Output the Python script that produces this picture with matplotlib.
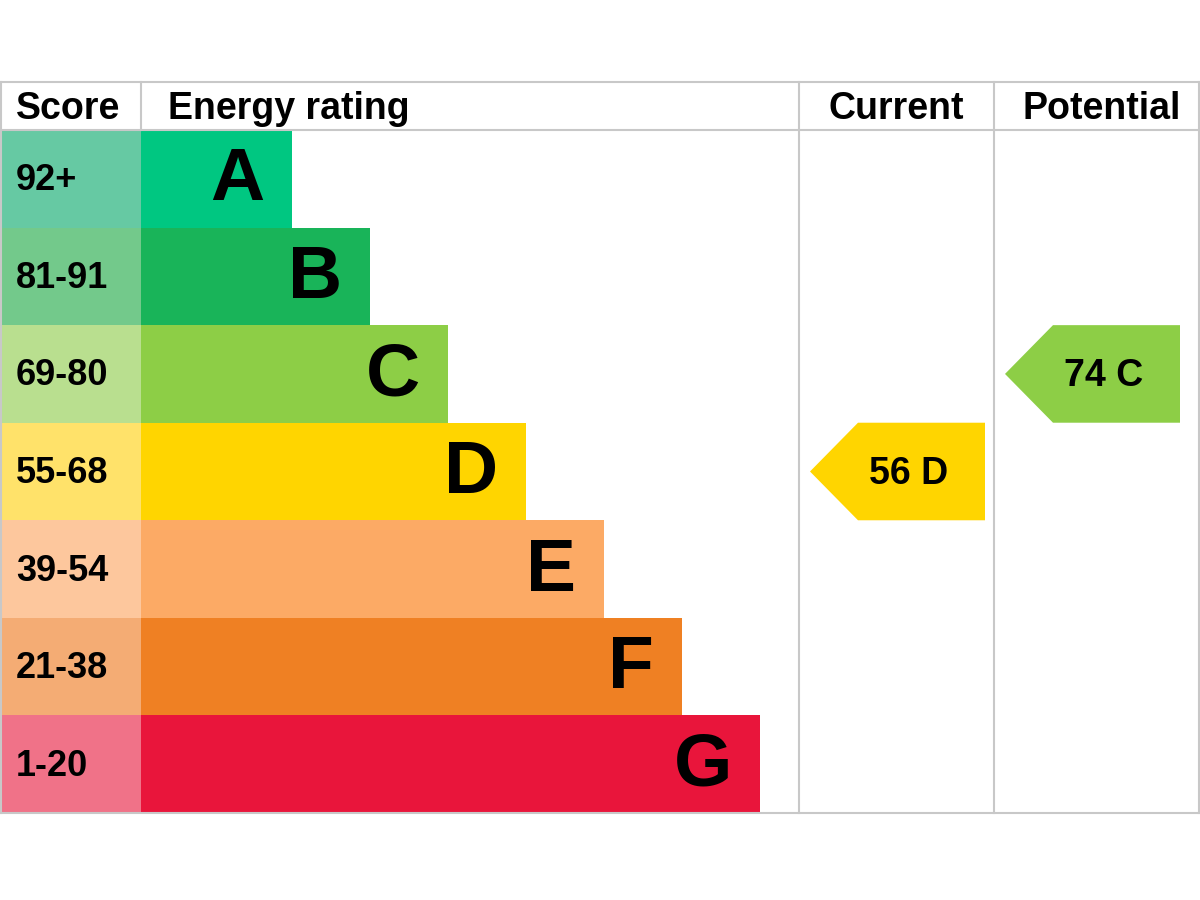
import matplotlib.pyplot as plt
from matplotlib.patches import Rectangle, Polygon

# EPC bands
bands = ["A", "B", "C", "D", "E", "F", "G"]
scores = ["92+", "81-91", "69-80", "55-68", "39-54", "21-38", "1-20"]
band_colors = ["#00c781", "#19b459", "#8dce46", "#ffd500", "#fcaa65", "#ef8023", "#e9153b"]
score_colors = ["#66c9a3", "#73c98b", "#b9df8f", "#ffe26a", "#fdc79d", "#f4ac74", "#f07288"]
headers = ["Score", "Energy rating", "Current", "Potential"]

current_value, current_band = 56, "D"
potential_value, potential_band = 74, "C"

plt.rcParams['font.family'] = ['Liberation Sans', 'DejaVu Sans']

fig = plt.figure(figsize=(12, 9), dpi=100)
ax = fig.add_axes([0, 0, 1, 1])
ax.set_xlim(0, 1200)
ax.set_ylim(900, 0)
ax.axis("off")

top, head_bot, bottom = 82, 130, 813
col_x = [1, 141, 799, 994, 1199]
row_h = (bottom - head_bot) / len(bands)
bar_w0, bar_step = 151, 78
grid = "#c8c8c8"

for i, (b, s) in enumerate(zip(bands, scores)):
    y0 = head_bot + i * row_h
    ax.add_patch(Rectangle((col_x[0], y0), col_x[1] - col_x[0], row_h, color=score_colors[i], lw=0))
    w = bar_w0 + bar_step * i
    ax.add_patch(Rectangle((col_x[1], y0), w, row_h, color=band_colors[i], lw=0))
    ax.text(16, y0 + row_h / 2 + 2, s, fontsize=26, fontweight="bold", va="center", ha="left")
    ax.text(col_x[1] + w - 28, y0 + row_h / 2 + 2, b, fontsize=54, fontweight="bold",
            va="center", ha="right")


def arrow(col, band, value):
    i = bands.index(band)
    y0 = head_bot + i * row_h
    x_left = col_x[col] + 11
    x_right = x_left + 175
    tip = 48
    pts = [(x_left, y0 + row_h / 2), (x_left + tip, y0), (x_right, y0),
           (x_right, y0 + row_h), (x_left + tip, y0 + row_h)]
    ax.add_patch(Polygon(pts, closed=True, color=band_colors[i], lw=0))
    ax.text((x_left + tip + x_right) / 2 - 13, y0 + row_h / 2 + 2, f"{value} {band}",
            fontsize=27, fontweight="bold", va="center", ha="center")


arrow(2, current_band, current_value)
arrow(3, potential_band, potential_value)

# headers
hy = (top + head_bot) / 2 + 3
ax.text(16, hy, headers[0], fontsize=27, fontweight="bold", va="center")
ax.text(168, hy, headers[1], fontsize=27, fontweight="bold", va="center")
ax.text((col_x[2] + col_x[3]) / 2, hy, headers[2], fontsize=27, fontweight="bold",
        va="center", ha="center")
ax.text((col_x[3] + col_x[4]) / 2 + 5, hy, headers[3], fontsize=27, fontweight="bold",
        va="center", ha="center")

# grid lines
ax.plot([col_x[0], col_x[-1]], [top, top], color=grid, lw=1.5)
ax.plot([col_x[0], col_x[-1]], [head_bot, head_bot], color=grid, lw=1.5)
ax.plot([col_x[0], col_x[-1]], [bottom, bottom], color=grid, lw=1.5)
ax.plot([col_x[1], col_x[1]], [top, head_bot], color=grid, lw=1.5)
for x in [col_x[0], col_x[2], col_x[3], col_x[4]]:
    ax.plot([x, x], [top, bottom], color=grid, lw=1.5)

fig.savefig("out.png", dpi=100)
